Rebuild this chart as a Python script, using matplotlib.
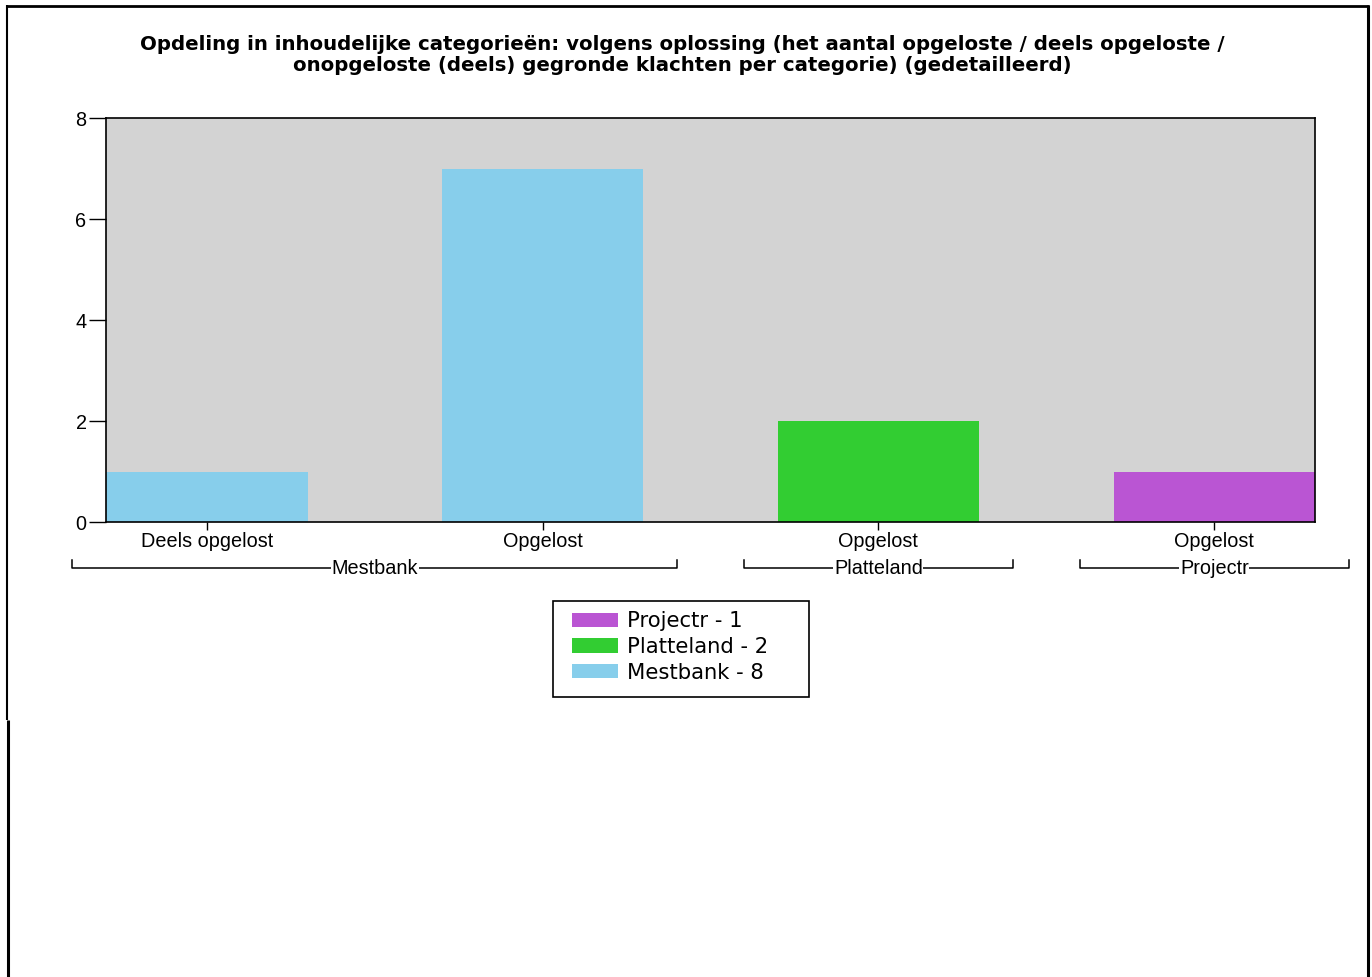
import matplotlib
matplotlib.use("Agg")
import matplotlib.pyplot as plt
from matplotlib.lines import Line2D
from matplotlib.patches import Patch, Rectangle

plt.rcParams['font.family'] = ['Liberation Sans', 'DejaVu Sans']

# ---- data ----
categories = ["Deels opgelost", "Opgelost", "Opgelost", "Opgelost"]
groups = ["Mestbank", "Mestbank", "Platteland", "Projectr"]
values = [1, 7, 2, 1]
group_order = ["Mestbank", "Platteland", "Projectr"]
group_colors = {"Mestbank": "#87CEEB", "Platteland": "#32CD32", "Projectr": "#BA55D3"}
yticks = [0, 2, 4, 6, 8]
title = ("Opdeling in inhoudelijke categorieën: volgens oplossing (het aantal opgeloste / deels opgeloste /\n"
         "onopgeloste (deels) gegronde klachten per categorie) (gedetailleerd)")

W, H = 1372, 977
fig = plt.figure(figsize=(W / 100, H / 100), dpi=100)
fig.patch.set_facecolor("white")

def fx(px):
    return px / W

def fy(py):
    return 1 - py / H

# axes box in pixels
L, R, T, B = 106, 1315, 118, 522
ax = fig.add_axes([fx(L), fy(B), fx(R - L), (B - T) / H])
ax.set_facecolor("#D3D3D3")

x = list(range(len(values)))
colors = [group_colors[g] for g in groups]
ax.bar(x, values, width=0.6, color=colors, zorder=2)
ax.set_xlim(-0.3, len(values) - 0.7)
ax.set_ylim(0, 8)
ax.set_yticks(yticks)
ax.set_xticks(x)
ax.set_xticklabels(categories, fontsize=14.3)
ax.tick_params(axis='y', length=12, width=1, pad=2, labelsize=14.3)
ax.tick_params(axis='x', length=6, width=1, pad=1)
for s in ax.spines.values():
    s.set_linewidth(1.2)
    s.set_color("black")

# group brackets under the axis
yb = (B - 568) / (B - T)
ye = (B - 560) / (B - T)
trans = ax.get_xaxis_transform()
idx = {}
for i, g in enumerate(groups):
    idx.setdefault(g, []).append(i)
for g in group_order:
    lo = min(idx[g]) - 0.4
    hi = max(idx[g]) + 0.4
    ax.plot([lo, lo, hi, hi], [ye, yb, yb, ye], color="black", lw=1.1,
            transform=trans, clip_on=False)
    ax.text((min(idx[g]) + max(idx[g])) / 2, yb, g, ha="center", va="center",
            fontsize=14.3, transform=trans,
            bbox=dict(facecolor="white", edgecolor="none", pad=0.5))

# title
fig.text(fx(682), fy(55), title, ha="center", va="center", fontsize=14.2,
         fontweight="bold", linespacing=1.12, family="DejaVu Sans")

# legend (frame drawn separately)
totals = {g: sum(v for v, gg in zip(values, groups) if gg == g) for g in group_order}
handles = [Patch(facecolor=group_colors[g], label=f"{g} - {totals[g]}")
           for g in reversed(group_order)]
leg = fig.legend(handles=handles, loc="upper left", bbox_to_anchor=(fx(572), fy(611)),
                 prop={"family": "DejaVu Sans", "size": 15.2}, frameon=False,
                 handlelength=2.2, handleheight=0.65, labelspacing=0.28,
                 borderpad=0, handletextpad=0.4, borderaxespad=0)
fig.add_artist(Rectangle((fx(553), fy(697)), fx(809 - 553), (697 - 601) / H,
                         transform=fig.transFigure, facecolor="none",
                         edgecolor="black", lw=1.2))

# outer frame lines
def line(xs, ys, lw):
    fig.add_artist(Line2D([fx(v) for v in xs], [fy(v) for v in ys], color="black",
                          lw=lw, solid_capstyle="butt"))

line([6, 1369], [6, 6], 2.0)
line([7, 7], [5, 720], 1.5)
line([7.5, 7.5], [720, 977], 2.2)
line([1368, 1368], [5, 977], 2.2)

fig.savefig("out.png", dpi=100, facecolor="white")
